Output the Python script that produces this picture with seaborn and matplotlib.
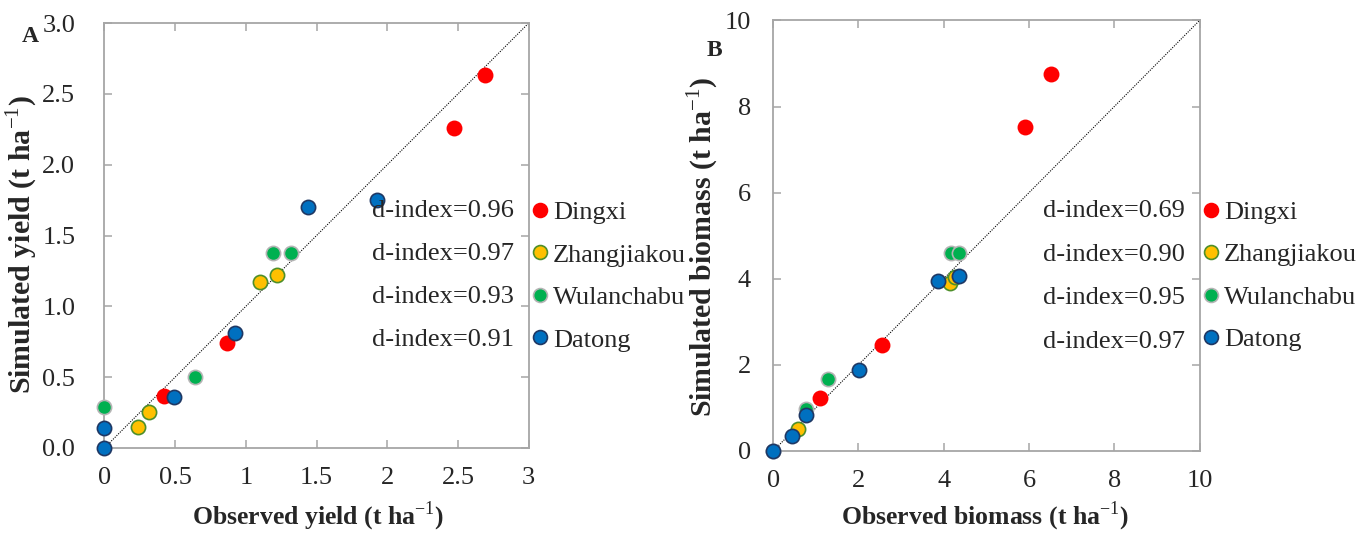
import numpy as np
import pandas as pd
import matplotlib
matplotlib.use("Agg")
import matplotlib.pyplot as plt
from matplotlib.lines import Line2D
import seaborn as sns

sns.set_theme(style="white")
plt.rcParams["font.family"] = ["Liberation Serif", "DejaVu Serif"]
plt.rcParams["mathtext.fontset"] = "custom"
plt.rcParams["mathtext.rm"] = "Liberation Serif"
plt.rcParams["mathtext.bf"] = "Liberation Serif:bold"

sites = ["Dingxi", "Zhangjiakou", "Wulanchabu", "Datong"]
face_colors = ["#FF0000", "#FFC000", "#00B050", "#0070C0"]
edge_colors = ["#FF0000", "#4E8F2A", "#B4B4B4", "#1F3864"]

# Grain yield (t/ha): observed vs simulated
yield_obs = {
    "Dingxi": [2.69, 2.47, 0.87, 0.42],
    "Zhangjiakou": [0.235, 0.318, 1.10, 1.22],
    "Wulanchabu": [0.0, 0.64, 1.19, 1.32],
    "Datong": [0.0, 0.0, 0.49, 0.927, 1.44, 1.924],
}
yield_sim = {
    "Dingxi": [2.636, 2.26, 0.743, 0.364],
    "Zhangjiakou": [0.149, 0.252, 1.17, 1.22],
    "Wulanchabu": [0.288, 0.503, 1.378, 1.378],
    "Datong": [0.0, 0.144, 0.36, 0.81, 1.70, 1.754],
}
yield_dindex = ["0.96", "0.97", "0.93", "0.91"]

# Above-ground biomass (t/ha): observed vs simulated
biomass_obs = {
    "Dingxi": [6.52, 5.90, 2.56, 1.10],
    "Zhangjiakou": [0.58, 4.15, 4.27],
    "Wulanchabu": [0.0, 0.76, 1.29, 4.18, 4.36],
    "Datong": [0.0, 0.43, 0.76, 2.02, 3.87, 4.35],
}
biomass_sim = {
    "Dingxi": [8.76, 7.52, 2.47, 1.23],
    "Zhangjiakou": [0.50, 3.90, 4.05],
    "Wulanchabu": [0.0, 0.97, 1.66, 4.60, 4.60],
    "Datong": [0.0, 0.34, 0.84, 1.89, 3.95, 4.07],
}
biomass_dindex = ["0.69", "0.90", "0.95", "0.97"]

yield_xticks = [0, 0.5, 1, 1.5, 2, 2.5, 3]
yield_xticklabels = ["0", "0.5", "1", "1.5", "2", "2.5", "3"]
yield_yticks = [0.0, 0.5, 1.0, 1.5, 2.0, 2.5, 3.0]
yield_yticklabels = ["0.0", "0.5", "1.0", "1.5", "2.0", "2.5", "3.0"]
biomass_ticks = [0, 2, 4, 6, 8, 10]
biomass_ticklabels = ["0", "2", "4", "6", "8", "10"]

FS = 19
XLFS = 18.5
YLFS = 21.5
MS = 105


def to_frame(obs, sim):
    rows = []
    for s in sites:
        for o, v in zip(obs[s], sim[s]):
            rows.append({"site": s, "observed": o, "simulated": v})
    return pd.DataFrame(rows)


def draw_panel(ax, df, lim, xticks, xlabels, yticks, ylabels, xlabel, ylabel,
               dindex, ypad, xlab_pos, ylab_pos):
    ax.plot([0, lim], [0, lim], color="black", lw=0.8, ls=(0, (1, 1.2)), zorder=1)
    for s, fc, ec in zip(sites, face_colors, edge_colors):
        sub = df[df["site"] == s]
        sns.scatterplot(data=sub, x="observed", y="simulated", ax=ax, s=MS,
                        color=fc, edgecolor=ec, linewidth=1.2, zorder=3,
                        legend=False, clip_on=False)
    ax.set_xlim(0, lim)
    ax.set_ylim(0, lim)
    ax.set_xticks(xticks)
    ax.set_xticklabels(xlabels)
    ax.set_yticks(yticks)
    ax.set_yticklabels(ylabels)
    ax.tick_params(direction="in", length=6, width=1.1, color="#A6A6A6",
                   labelsize=FS, top=True, right=True, bottom=True, left=True)
    ax.tick_params(axis="x", pad=14)
    ax.tick_params(axis="y", pad=ypad)
    for sp in ax.spines.values():
        sp.set_color("#A6A6A6")
        sp.set_linewidth(1.3)
    ax.set_xlabel(xlabel, fontsize=XLFS, fontweight="bold")
    ax.set_ylabel(ylabel, fontsize=YLFS, fontweight="bold")
    ax.xaxis.set_label_coords(*xlab_pos)
    ax.yaxis.set_label_coords(*ylab_pos)

    handles = [Line2D([], [], marker="o", ls="none", markersize=10,
                      markerfacecolor=fc, markeredgecolor=ec, markeredgewidth=1.2)
               for fc, ec in zip(face_colors, edge_colors)]
    ax.legend(handles, sites, loc="upper left", bbox_to_anchor=(0.995, 0.582),
              frameon=False, fontsize=FS, handletextpad=0.0, handlelength=1.0,
              labelspacing=0.72, borderaxespad=0, borderpad=0)
    rows_y = [0.558, 0.456, 0.355, 0.254]
    for yy, d in zip(rows_y, dindex):
        ax.text(0.965, yy, f"d-index={d}", transform=ax.transAxes, fontsize=FS,
                ha="right", va="center")


fig = plt.figure(figsize=(13.7, 5.33), dpi=100)
axA = fig.add_axes([0.0762, 0.1595, 0.3097, 0.7972])
axB = fig.add_axes([0.5644, 0.154, 0.3112, 0.8077])

draw_panel(axA, to_frame(yield_obs, yield_sim), 3, yield_xticks, yield_xticklabels,
           yield_yticks, yield_yticklabels,
           r"Observed yield (t ha$^{-1}$)", r"Simulated yield (t ha$^{-1}$)",
           yield_dindex, 21, (0.503, -0.122), (-0.152, 0.479))
draw_panel(axB, to_frame(biomass_obs, biomass_sim), 10, biomass_ticks, biomass_ticklabels,
           biomass_ticks, biomass_ticklabels,
           r"Observed biomass (t ha$^{-1}$)", r"Simulated biomass (t ha$^{-1}$)",
           biomass_dindex, 16, (0.497, -0.114), (-0.123, 0.474))

fig.text(30 / 1370, 1 - 36 / 533, "A", fontsize=17, fontweight="bold", ha="center", va="center")
fig.text(714 / 1370, 1 - 50 / 533, "B", fontsize=17, fontweight="bold", ha="center", va="center")

fig.savefig("out.png", dpi=100, facecolor="white")
